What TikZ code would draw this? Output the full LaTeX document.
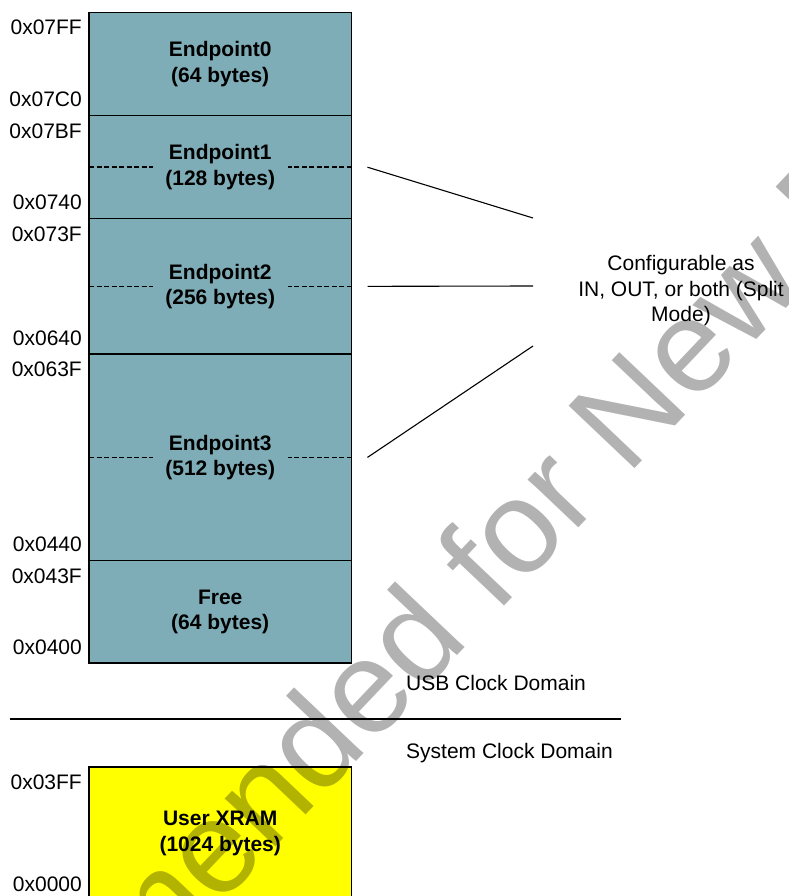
\documentclass[tikz,border=0pt]{standalone}
\usepackage{fontspec}
\setmainfont{Liberation Sans}
\usetikzlibrary{positioning}
\definecolor{usbram}{HTML}{7FADB7}
\definecolor{userram}{HTML}{FFFF00}

\begin{document}
\begin{tikzpicture}[x=1pt,y=-1pt,
  every node/.style={font=\fontsize{21}{25.5}\selectfont},
  blk/.style={draw,line width=1.2pt,fill=usbram,minimum width=262.5pt,inner sep=0,outer sep=0,align=center,font=\fontsize{21}{25.5}\selectfont\bfseries},
  addr/.style={inner sep=0},
  split/.style={line width=1.6pt,dash pattern=on 5pt off 2.5pt},
  link/.style={line width=1.1pt},
  wmark/.style={rotate=46.5,anchor=base,inner sep=0,text=black,text opacity=0.3,font=\fontsize{132}{132}\selectfont},
]
  \useasboundingbox (0,0) rectangle (788,896);
  \clip (0,0) rectangle (788,896);

  % USB clock domain RAM
  \node[blk,minimum height=103.4pt] (ep0) at (220.25,64) {Endpoint0\\(64 bytes)};
  \node[blk,minimum height=103pt,below=0pt of ep0] (ep1) {Endpoint1\\(128 bytes)};
  \node[blk,minimum height=135.3pt,below=0pt of ep1] (ep2) {Endpoint2\\(256 bytes)};
  \node[blk,minimum height=206.8pt,below=0pt of ep2] (ep3) {Endpoint3\\(512 bytes)};
  \node[blk,minimum height=102.2pt,below=0pt of ep3] (free) {Free\\(64 bytes)};

  \draw[split] (ep1.west) -- ++(64,0);
  \draw[split] (ep1.east) -- ++(-64,0);
  \draw[split] (ep2.west) -- ++(64,0);
  \draw[split] (ep2.east) -- ++(-64,0);
  \draw[split] (ep3.west) -- ++(64,0);
  \draw[split] (ep3.east) -- ++(-64,0);

  \node[addr,anchor=north east] (a07FF) at ([xshift=-7pt,yshift=-7.5pt]ep0.north west) {0x07FF};
  \node[addr,anchor=base east] (a07C0) at ([xshift=-7pt,yshift=9pt]ep0.south west) {0x07C0};
  \node[addr,anchor=north east] (a07BF) at ([xshift=-7pt,yshift=-7.5pt]ep1.north west) {0x07BF};
  \node[addr,anchor=base east] (a0740) at ([xshift=-7pt,yshift=9pt]ep1.south west) {0x0740};
  \node[addr,anchor=north east] (a073F) at ([xshift=-7pt,yshift=-7.5pt]ep2.north west) {0x073F};
  \node[addr,anchor=base east] (a0640) at ([xshift=-7pt,yshift=9pt]ep2.south west) {0x0640};
  \node[addr,anchor=north east] (a063F) at ([xshift=-7pt,yshift=-7.5pt]ep3.north west) {0x063F};
  \node[addr,anchor=base east] (a0440) at ([xshift=-7pt,yshift=9pt]ep3.south west) {0x0440};
  \node[addr,anchor=north east] (a043F) at ([xshift=-7pt,yshift=-7.5pt]free.north west) {0x043F};
  \node[addr,anchor=base east] (a0400) at ([xshift=-7pt,yshift=9pt]free.south west) {0x0400};

  % endpoint modes
  \node[align=center,inner sep=0] (cfg) at (681,291) {Configurable as\\IN, OUT, or both (Split\\Mode)};
  \coordinate (t1) at (533,218);
  \coordinate (t2) at (533,286);
  \coordinate (t3) at (533,346);
  \draw[link] ([xshift=16pt]ep1.east) -- (t1);
  \draw[link] ([xshift=16pt]ep2.east) -- (t2);
  \draw[link] ([xshift=16pt]ep3.east) -- (t3);

  % clock domains
  \node[anchor=west,inner sep=0] (usb) at (406,682.7) {USB Clock Domain};
  \coordinate (sepL) at (10,719);
  \coordinate (sepR) at (621,719);
  \draw[link] (sepL) -- (sepR);
  \node[anchor=west,inner sep=0] (sys) at (406,753) {System Clock Domain};

  % system clock domain RAM
  \node[blk,fill=userram,minimum height=133pt] (xram) at (220.25,833.5) {User XRAM\\(1024 bytes)};
  \node[addr,anchor=north east] (a03FF) at ([xshift=-7pt,yshift=-7.5pt]xram.north west) {0x03FF};
  \node[addr,anchor=base east] (a0000) at ([xshift=-7pt,yshift=9pt]xram.south west) {0x0000};

  \node[wmark] (wm) at (425.8,688.7) {Not Recommended for New Designs};
\end{tikzpicture}
\end{document}
